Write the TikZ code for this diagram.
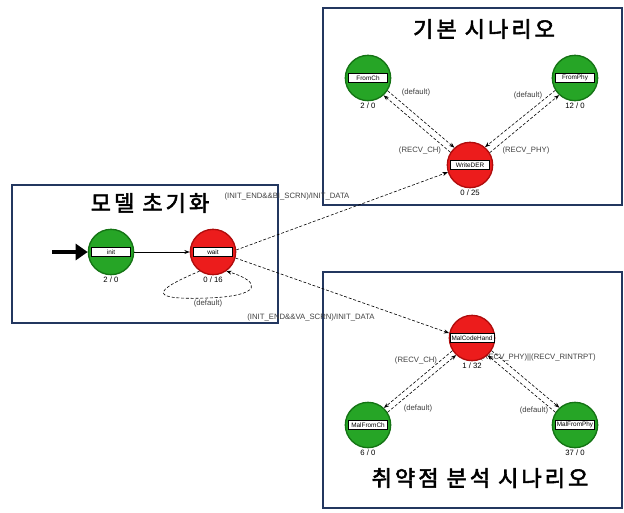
\documentclass[tikz,border=0pt]{standalone}
\usepackage{fontspec}
\setmainfont{Liberation Sans}
\newfontfamily\kr[AutoFakeBold=2.5,LetterSpace=14]{Noto Sans CJK KR}
\usetikzlibrary{arrows.meta}
\definecolor{stgreen}{RGB}{38,165,38}
\definecolor{stgreenline}{RGB}{20,115,20}
\definecolor{stred}{RGB}{236,28,28}
\definecolor{stredline}{RGB}{175,12,12}
\definecolor{boxblue}{RGB}{35,55,95}
\tikzset{
  grn/.style={circle, minimum size=34pt, inner sep=0pt, fill=stgreen, draw=stgreenline, line width=1pt},
  rd/.style={circle, minimum size=34pt, inner sep=0pt, fill=stred, draw=stredline, line width=1pt},
  tag/.style={draw, fill=white, inner xsep=1pt, inner ysep=0pt, minimum width=29pt, minimum height=6.5pt, font=\fontsize{4.8}{5}\selectfont},
  cnt/.style={font=\fontsize{5.8}{6}\selectfont, inner sep=1pt},
  trn/.style={dash pattern=on 2.2pt off 1.4pt, -{Stealth[length=4pt,width=3pt]}, line width=0.45pt},
  lbl/.style={font=\fontsize{5.8}{6}\selectfont, text=black!75},
  grp/.style={draw=boxblue, line width=1.5pt},
  ttl/.style={font=\kr\bfseries\fontsize{16.5}{17}\selectfont}
}
\begin{document}
\begin{tikzpicture}[x=0.75pt, y=-0.75pt]
  \useasboundingbox (0,0) rectangle (624,512);
  \draw[grp] (12,185) rectangle (278,323);
  \draw[grp] (323,8) rectangle (622,205);
  \draw[grp] (323,272) rectangle (622,508);
  \node[ttl] (t1) at (150,203) {모델 초기화};
  \node[ttl] (t2) at (484,29) {기본 시나리오};
  \node[ttl] (t3) at (480,478) {취약점 분석 시나리오};

  \node[lbl] (l1) at (287,196) {(INIT\_END\&\&BI\_SCRN)/INIT\_DATA};
  \node[lbl] (l2) at (311,317) {(INIT\_END\&\&VA\_SCRN)/INIT\_DATA};
  \node[lbl] (l3) at (208,303) {(default)};
  \node[lbl] (l4) at (416,92) {(default)};
  \node[lbl] (l5) at (420,150) {(RECV\_CH)};
  \node[lbl] (l6) at (528,95) {(default)};
  \node[lbl] (l7) at (526,150) {(RECV\_PHY)};
  \node[lbl] (l8) at (416,360) {(RECV\_CH)};
  \node[lbl] (l9) at (418,408) {(default)};
  \node[lbl] (l10) at (538,358) {(RECV\_PHY)||(RECV\_RINTRPT)};
  \node[lbl] (l11) at (534,410) {(default)};

  \node[grn, label={[tag]center:init}, label={[cnt]below:2 / 0}] (init) at (111,252) {};
  \node[rd, label={[tag]center:wait}, label={[cnt]below:0 / 16}] (wait) at (213,252) {};
  \node[grn, label={[tag]center:FromCh}, label={[cnt]below:2 / 0}] (FromCh) at (368,78) {};
  \node[grn, label={[tag]center:FromPhy}, label={[cnt]below:12 / 0}] (FromPhy) at (575,78) {};
  \node[rd, label={[tag]center:WriteDER}, label={[cnt]below:0 / 25}] (WriteDER) at (470,165) {};
  \node[rd, label={[tag]center:MalCodeHand}, label={[cnt]below:1 / 32}] (MalCodeHand) at (472,338) {};
  \node[grn, label={[tag]center:MalFromCh}, label={[cnt]below:6 / 0}] (MalFromCh) at (368,425) {};
  \node[grn, label={[tag]center:MalFromPhy}, label={[cnt]below:37 / 0}] (MalFromPhy) at (575,425) {};

  \coordinate (start) at (52,252);
  \draw[line width=3.5pt, -{Triangle[length=9pt,width=12pt]}] (start) -- (init.west);
  \draw[line width=0.5pt, -{Stealth[length=4pt,width=3pt]}] (init) -- (wait);
  \draw[trn] (wait.-125) .. controls (150,292) and (150,300) .. (208,298) .. controls (262,296) and (262,282) .. (wait.-55);
  \draw[trn] (wait.5) -- (WriteDER.198);
  \draw[trn] (wait.-15) -- (MalCodeHand.168);

  \draw[trn] (FromCh.-33) -- (WriteDER.132);
  \draw[trn] (WriteDER.147) -- (FromCh.-48);
  \draw[trn] (FromPhy.-148) -- (WriteDER.50);
  \draw[trn] (WriteDER.32) -- (FromPhy.-133);

  \draw[trn] (MalCodeHand.-147) -- (MalFromCh.47);
  \draw[trn] (MalFromCh.33) -- (MalCodeHand.-133);
  \draw[trn] (MalCodeHand.-33) -- (MalFromPhy.132);
  \draw[trn] (MalFromPhy.147) -- (MalCodeHand.-48);
\end{tikzpicture}
\end{document}
